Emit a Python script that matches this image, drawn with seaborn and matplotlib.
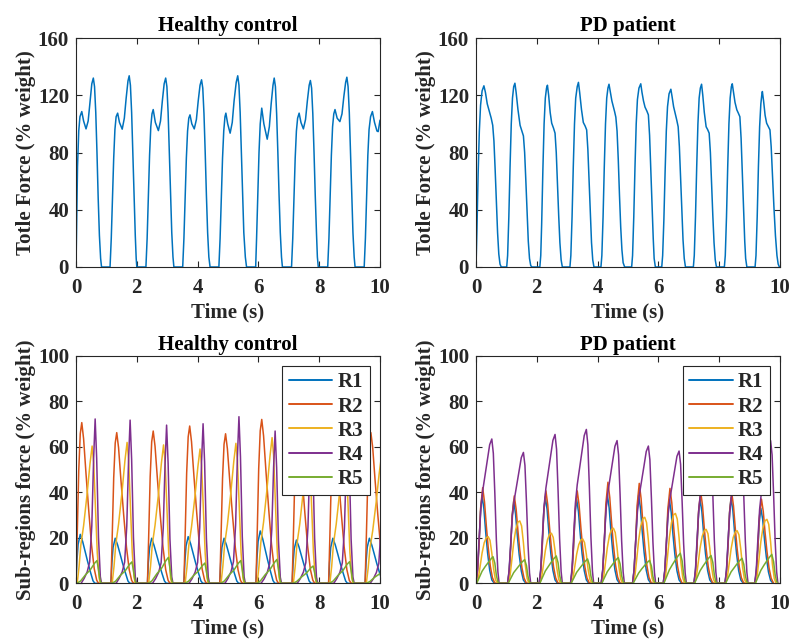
import numpy as np
import pandas as pd
import seaborn as sns
import matplotlib
matplotlib.use("Agg")
import matplotlib.pyplot as plt

# ---------------------------------------------------------------
# data (time in s, force in % body weight)
# ---------------------------------------------------------------

# total force, healthy control: (time, force) per step cycle
hc_total_pts = [
    (0.00, 0), (0.02, 30), (0.05, 70), (0.09, 95), (0.13, 105), (0.19, 108.6), (0.25, 102), (0.33, 96.5),
    (0.40, 102), (0.46, 115), (0.52, 128), (0.57, 132), (0.61, 126), (0.65, 108), (0.69, 80), (0.73, 48),
    (0.77, 22), (0.81, 6), (0.84, 0),
    (1.12, 0), (1.16, 20), (1.20, 48), (1.24, 76), (1.28, 96), (1.32, 105), (1.37, 107.5), (1.43, 101),
    (1.52, 96.3), (1.59, 104), (1.65, 118), (1.71, 130), (1.75, 133.6), (1.79, 127), (1.83, 108), (1.87, 80),
    (1.91, 50), (1.95, 22), (1.98, 6), (2.00, 0),
    (2.30, 0), (2.34, 20), (2.38, 48), (2.42, 78), (2.46, 98), (2.50, 107), (2.54, 110), (2.61, 101),
    (2.71, 95.3), (2.78, 102), (2.84, 116), (2.90, 128), (2.95, 132), (2.99, 126), (3.03, 108), (3.07, 80),
    (3.11, 50), (3.15, 24), (3.19, 7), (3.22, 0),
    (3.51, 0), (3.55, 20), (3.59, 48), (3.63, 76), (3.67, 95), (3.71, 104), (3.75, 106.3), (3.81, 100),
    (3.89, 96.5), (3.96, 103), (4.02, 116), (4.08, 127), (4.13, 130.8), (4.17, 125), (4.21, 107), (4.25, 80),
    (4.29, 50), (4.33, 24), (4.37, 7), (4.41, 0),
    (4.70, 0), (4.74, 20), (4.78, 48), (4.82, 76), (4.86, 95), (4.90, 105), (4.93, 107.5), (4.99, 100),
    (5.07, 93.5), (5.14, 101), (5.20, 116), (5.27, 129), (5.32, 133.6), (5.36, 127), (5.40, 108), (5.44, 80),
    (5.48, 50), (5.52, 24), (5.57, 7), (5.61, 0),
    (5.91, 0), (5.94, 20), (5.98, 50), (6.02, 80), (6.06, 100), (6.11, 111), (6.18, 100), (6.29, 89.3),
    (6.36, 98), (6.42, 114), (6.48, 127), (6.52, 132), (6.56, 126), (6.60, 107), (6.64, 80), (6.68, 50),
    (6.72, 24), (6.76, 7), (6.79, 0),
    (7.09, 0), (7.13, 20), (7.17, 48), (7.21, 76), (7.25, 95), (7.29, 104), (7.34, 107.5), (7.40, 101),
    (7.48, 96.5), (7.55, 103), (7.61, 116), (7.67, 127), (7.71, 130.3), (7.75, 125), (7.79, 107), (7.83, 80),
    (7.87, 50), (7.91, 24), (7.94, 7), (7.97, 0),
    (8.28, 0), (8.32, 20), (8.36, 48), (8.40, 78), (8.44, 98), (8.48, 107), (8.52, 110), (8.59, 104),
    (8.68, 101.6), (8.75, 107), (8.81, 119), (8.87, 129), (8.91, 132.6), (8.95, 126), (8.99, 108), (9.03, 80),
    (9.07, 50), (9.11, 24), (9.15, 7), (9.18, 0),
    (9.48, 0), (9.52, 20), (9.56, 48), (9.60, 78), (9.64, 96), (9.69, 105), (9.75, 108.6), (9.82, 101),
    (9.90, 95), (9.94, 94.6), (10.00, 102.6),
]

# total force, PD patient
pd_total_pts = [
    (0.00, 0), (0.03, 25), (0.07, 65), (0.11, 95), (0.15, 113), (0.20, 123), (0.26, 126.6), (0.31, 122),
    (0.37, 114), (0.44, 108.6), (0.50, 104), (0.55, 99), (0.59, 88), (0.63, 68), (0.67, 45), (0.71, 24),
    (0.75, 9), (0.79, 2), (0.83, 0),
    (1.01, 0), (1.04, 8), (1.08, 35), (1.12, 70), (1.16, 100), (1.20, 118), (1.24, 126), (1.28, 128.4),
    (1.32, 122), (1.38, 110), (1.45, 99), (1.51, 95), (1.56, 91.6), (1.60, 80), (1.64, 60), (1.68, 38),
    (1.72, 18), (1.76, 6), (1.80, 1), (1.84, 0),
    (2.10, 0), (2.13, 8), (2.16, 30), (2.20, 68), (2.24, 100), (2.28, 118), (2.32, 125), (2.35, 127),
    (2.39, 120), (2.44, 108), (2.49, 100.5), (2.55, 97), (2.60, 93.5), (2.64, 80), (2.68, 58), (2.72, 36),
    (2.76, 17), (2.80, 5), (2.84, 0),
    (3.09, 0), (3.12, 8), (3.16, 35), (3.20, 70), (3.24, 100), (3.28, 118), (3.33, 126), (3.37, 129),
    (3.41, 122), (3.47, 110), (3.53, 101), (3.59, 98.5), (3.64, 95.8), (3.68, 82), (3.72, 60), (3.76, 37),
    (3.80, 17), (3.84, 5), (3.88, 0),
    (4.11, 0), (4.14, 8), (4.18, 35), (4.22, 70), (4.26, 100), (4.30, 118), (4.34, 125), (4.375, 127.7),
    (4.42, 122), (4.47, 116), (4.52, 112), (4.56, 108.5), (4.60, 104.7), (4.64, 95), (4.68, 75), (4.72, 50),
    (4.76, 28), (4.80, 12), (4.84, 3), (4.89, 0),
    (5.12, 0), (5.15, 8), (5.19, 35), (5.23, 70), (5.27, 100), (5.31, 117), (5.36, 125), (5.42, 128),
    (5.46, 122), (5.51, 116), (5.56, 111.7), (5.62, 109), (5.67, 106.3), (5.71, 92), (5.75, 68), (5.79, 42),
    (5.83, 20), (5.86, 6), (5.90, 0),
    (6.11, 0), (6.14, 8), (6.18, 33), (6.22, 66), (6.26, 95), (6.30, 112), (6.35, 121), (6.41, 124.2),
    (6.45, 119), (6.50, 112), (6.55, 107.5), (6.60, 103), (6.65, 98), (6.69, 84), (6.73, 62), (6.77, 39),
    (6.81, 19), (6.85, 6), (6.89, 0),
    (7.15, 0), (7.18, 8), (7.22, 35), (7.26, 70), (7.30, 100), (7.34, 118), (7.38, 125), (7.42, 127.7),
    (7.46, 120), (7.51, 108), (7.57, 98), (7.62, 96), (7.67, 93.5), (7.71, 80), (7.75, 58), (7.79, 36),
    (7.83, 17), (7.87, 5), (7.91, 0),
    (8.17, 0), (8.20, 8), (8.24, 35), (8.28, 70), (8.32, 100), (8.36, 118), (8.40, 126), (8.43, 128),
    (8.47, 122), (8.52, 115), (8.58, 109.8), (8.63, 107.5), (8.68, 105), (8.72, 90), (8.76, 66), (8.80, 40),
    (8.84, 18), (8.87, 6), (8.91, 0),
    (9.18, 0), (9.21, 8), (9.25, 35), (9.29, 70), (9.33, 98), (9.37, 114), (9.40, 120), (9.42, 122.6),
    (9.46, 116), (9.51, 106), (9.56, 100.5), (9.62, 98), (9.67, 95.8), (9.71, 84), (9.75, 65), (9.80, 42),
    (9.85, 22), (9.90, 8), (9.94, 2), (9.98, 0), (10.00, 0),
]

regions = ["R1", "R2", "R3", "R4", "R5"]

# ---- healthy control sub-regions: cycle onsets + time after onset + values per cycle
hc_onsets = [0.0, 1.15, 2.35, 3.55, 4.73, 5.92, 7.11, 8.31, 9.51]

hc_r1_dt = [0, 0.03, 0.07, 0.14, 0.22, 0.30, 0.38, 0.48, 0.56, 0.62]
hc_r1 = [
    [0, 9.7, 17.2, 21.5, 18.3, 14.0, 9.7, 4.7, 1.1, 0],
    [0, 8.9, 15.8, 19.8, 16.8, 12.9, 8.9, 4.4, 1.0, 0],
    [0, 9.0, 15.6, 19.8, 16.5, 12.6, 8.7, 4.3, 1.0, 0],
    [0, 9.2, 16.4, 20.5, 17.4, 13.3, 9.2, 4.5, 1.0, 0],
    [0, 8.9, 15.8, 19.8, 16.8, 12.9, 8.9, 4.4, 1.0, 0],
    [0, 10.4, 18.4, 23.0, 19.6, 15.0, 10.4, 5.1, 1.2, 0],
    [0, 8.6, 15.2, 19.0, 16.2, 12.4, 8.6, 4.2, 1.0, 0],
    [0, 8.9, 15.8, 19.8, 16.8, 12.9, 8.9, 4.4, 1.0, 0],
    [0, 8.9, 15.8, 19.8, 16.8, 12.9, 8.9, 4.4, 1.0, 0],
]

hc_r2_dt = [0, 0.04, 0.09, 0.14, 0.19, 0.25, 0.33, 0.42, 0.51, 0.60, 0.68, 0.74]
hc_r2 = [
    [0, 21.2, 49.4, 65.7, 70.6, 63.5, 48.0, 31.8, 16.9, 6.4, 1.4, 0],
    [0, 19.9, 46.3, 61.6, 66.2, 59.6, 45.0, 29.8, 15.9, 6.0, 1.3, 0],
    [0, 20.1, 46.8, 62.2, 66.9, 60.2, 45.5, 30.1, 16.1, 6.0, 1.3, 0],
    [0, 20.7, 48.4, 64.3, 69.1, 62.2, 47.0, 31.1, 16.6, 6.2, 1.4, 0],
    [0, 19.7, 46.0, 61.1, 65.7, 59.1, 44.7, 29.6, 15.8, 5.9, 1.3, 0],
    [0, 21.6, 50.4, 67.0, 72.0, 64.8, 49.0, 32.4, 17.3, 6.5, 1.4, 0],
    [0, 20.4, 47.6, 63.2, 68.0, 61.2, 46.2, 30.6, 16.3, 6.1, 1.4, 0],
    [0, 20.1, 46.9, 62.3, 67.0, 60.3, 45.6, 30.2, 16.1, 6.0, 1.3, 0],
    [0, 19.9, 46.3, 61.6, 66.2, 59.6, 45.0, 29.8, 15.9, 6.0, 1.3, 0],
]

hc_r3_dt = [0.04, 0.10, 0.16, 0.25, 0.36, 0.46, 0.53, 0.58, 0.64, 0.70, 0.76, 0.80]
hc_r3 = [
    [0, 7.2, 16.9, 25.3, 38.6, 52.5, 60.3, 53.1, 33.2, 13.3, 2.4, 0],
    [0, 7.4, 17.3, 26.0, 39.6, 53.9, 61.9, 54.5, 34.0, 13.6, 2.5, 0],
    [0, 7.3, 17.0, 25.5, 38.9, 52.9, 60.8, 53.5, 33.4, 13.4, 2.4, 0],
    [0, 7.1, 16.5, 24.8, 37.8, 51.3, 59.0, 51.9, 32.5, 13.0, 2.4, 0],
    [0, 7.4, 17.2, 25.8, 39.4, 53.5, 61.5, 54.1, 33.8, 13.5, 2.5, 0],
    [0, 7.7, 17.9, 26.9, 41.0, 55.7, 64.0, 56.3, 35.2, 14.1, 2.6, 0],
    [0, 7.4, 17.4, 26.0, 39.7, 53.9, 62.0, 54.6, 34.1, 13.6, 2.5, 0],
    [0, 7.4, 17.4, 26.0, 39.7, 53.9, 62.0, 54.6, 34.1, 13.6, 2.5, 0],
    [0, 6.6, 15.4, 23.1, 35.2, 47.9, 55.0, 48.4, 30.3, 12.1, 2.2, 0],
]

hc_r4_dt = [0.17, 0.27, 0.37, 0.45, 0.52, 0.58, 0.63, 0.68, 0.74, 0.80, 0.84]
hc_r4 = [
    [0, 2.2, 5.1, 9.4, 25.3, 54.9, 72.2, 54.9, 20.2, 2.9, 0],
    [0, 2.2, 5.0, 9.3, 25.1, 54.5, 71.7, 54.5, 20.1, 2.9, 0],
    [0, 2.1, 4.9, 9.0, 24.3, 52.8, 69.5, 52.8, 19.5, 2.8, 0],
    [0, 2.1, 4.9, 9.1, 24.5, 53.3, 70.1, 53.3, 19.6, 2.8, 0],
    [0, 2.2, 5.1, 9.5, 25.6, 55.6, 73.2, 55.6, 20.5, 2.9, 0],
    [0, 2.0, 4.7, 8.7, 23.4, 50.8, 66.9, 50.8, 18.7, 2.7, 0],
    [0, 2.1, 4.9, 9.1, 24.5, 53.2, 70.0, 53.2, 19.6, 2.8, 0],
    [0, 2.1, 4.8, 9.0, 24.2, 52.4, 69.0, 52.4, 19.3, 2.8, 0],
    [0, 2.0, 4.7, 8.7, 23.4, 50.8, 66.9, 50.8, 18.7, 2.7, 0],
]

hc_r5_dt = [0.03, 0.15, 0.31, 0.47, 0.61, 0.69, 0.74, 0.79, 0.83]
hc_r5 = [
    [0, 1.0, 3.7, 5.9, 8.8, 10.0, 6.0, 1.5, 0],
    [0, 0.9, 3.5, 5.5, 8.3, 9.4, 5.6, 1.4, 0],
    [0, 1.1, 4.2, 6.7, 10.0, 11.4, 6.8, 1.7, 0],
    [0, 0.9, 3.3, 5.3, 7.8, 8.9, 5.3, 1.3, 0],
    [0, 1.0, 3.7, 5.9, 8.8, 10.0, 6.0, 1.5, 0],
    [0, 1.1, 3.9, 6.2, 9.2, 10.5, 6.3, 1.6, 0],
    [0, 0.8, 2.8, 4.5, 6.7, 7.6, 4.6, 1.1, 0],
    [0, 1.0, 3.5, 5.6, 8.4, 9.5, 5.7, 1.4, 0],
    [0, 0.7, 2.6, 4.1, 6.2, 7.0, 4.2, 1.1, 0],
]

# ---- PD patient sub-regions
pd_onsets = [0.0, 1.04, 2.08, 3.11, 4.12, 5.15, 6.16, 7.17, 8.19, 9.17]

pd_r1_dt = [0, 0.05, 0.10, 0.15, 0.20, 0.26, 0.32, 0.38, 0.45, 0.52, 0.60]
pd_r1 = [
    [0, 5.8, 17.3, 31.6, 38.5, 32.7, 22.3, 13.5, 5.8, 1.5, 0],
    [0, 5.4, 16.2, 29.5, 36.0, 30.6, 20.9, 12.6, 5.4, 1.4, 0],
    [0, 5.7, 17.1, 31.2, 38.0, 32.3, 22.0, 13.3, 5.7, 1.5, 0],
    [0, 5.6, 16.7, 30.3, 37.0, 31.5, 21.5, 13.0, 5.6, 1.5, 0],
    [0, 5.9, 17.6, 32.0, 39.0, 33.2, 22.6, 13.7, 5.9, 1.6, 0],
    [0, 5.8, 17.5, 31.8, 38.8, 33.0, 22.5, 13.6, 5.8, 1.6, 0],
    [0, 5.5, 16.6, 30.2, 36.8, 31.3, 21.3, 12.9, 5.5, 1.5, 0],
    [0, 5.6, 16.7, 30.3, 37.0, 31.5, 21.5, 13.0, 5.6, 1.5, 0],
    [0, 5.6, 16.9, 30.8, 37.5, 31.9, 21.8, 13.1, 5.6, 1.5, 0],
    [0, 5.0, 14.9, 27.1, 33.0, 28.1, 19.1, 11.6, 5.0, 1.3, 0],
]

pd_r2_dt = [0, 0.05, 0.10, 0.15, 0.22, 0.28, 0.34, 0.40, 0.47, 0.54, 0.62]
pd_r2 = [
    [0, 5.0, 16.8, 32.8, 42.0, 35.7, 25.2, 16.0, 7.6, 2.5, 0],
    [0, 4.6, 15.4, 30.0, 38.4, 32.6, 23.0, 14.6, 6.9, 2.3, 0],
    [0, 4.9, 16.2, 31.7, 40.6, 34.5, 24.4, 15.4, 7.3, 2.4, 0],
    [0, 4.9, 16.2, 31.7, 40.6, 34.5, 24.4, 15.4, 7.3, 2.4, 0],
    [0, 5.3, 17.8, 34.6, 44.4, 37.7, 26.6, 16.9, 8.0, 2.7, 0],
    [0, 5.3, 17.6, 34.2, 43.9, 37.3, 26.3, 16.7, 7.9, 2.6, 0],
    [0, 5.0, 16.7, 32.5, 41.7, 35.4, 25.0, 15.8, 7.5, 2.5, 0],
    [0, 4.8, 16.1, 31.4, 40.3, 34.3, 24.2, 15.3, 7.3, 2.4, 0],
    [0, 4.8, 16.0, 31.2, 40.0, 34.0, 24.0, 15.2, 7.2, 2.4, 0],
    [0, 4.4, 14.8, 28.9, 37.0, 31.5, 22.2, 14.1, 6.7, 2.2, 0],
]

pd_r3_dt = [0.02, 0.08, 0.14, 0.20, 0.27, 0.34, 0.40, 0.46, 0.52, 0.58, 0.64, 0.70]
pd_r3 = [
    [0, 2.5, 7.8, 13.3, 17.8, 20.1, 20.5, 18.9, 13.3, 6.2, 1.6, 0],
    [0, 3.3, 10.4, 17.8, 23.8, 26.9, 27.4, 25.2, 17.8, 8.2, 2.2, 0],
    [0, 2.6, 8.4, 14.3, 19.1, 21.6, 22.0, 20.2, 14.3, 6.6, 1.8, 0],
    [0, 2.3, 7.4, 12.7, 17.0, 19.1, 19.5, 17.9, 12.7, 5.9, 1.6, 0],
    [0, 2.9, 9.2, 15.7, 21.1, 23.7, 24.2, 22.3, 15.7, 7.3, 1.9, 0],
    [0, 3.5, 11.0, 18.9, 25.2, 28.4, 29.0, 26.7, 18.9, 8.7, 2.3, 0],
    [0, 3.7, 11.7, 20.0, 26.7, 30.1, 30.7, 28.2, 20.0, 9.2, 2.5, 0],
    [0, 2.8, 9.0, 15.4, 20.6, 23.2, 23.7, 21.8, 15.4, 7.1, 1.9, 0],
    [0, 2.8, 8.8, 15.0, 20.1, 22.6, 23.1, 21.3, 15.0, 6.9, 1.8, 0],
    [0, 3.4, 10.7, 18.3, 24.4, 27.5, 28.1, 25.9, 18.3, 8.4, 2.2, 0],
]

pd_r4_dt = [0, 0.05, 0.10, 0.16, 0.22, 0.30, 0.38, 0.45, 0.52, 0.57, 0.62, 0.67, 0.72, 0.76]
pd_r4 = [
    [0, 6.3, 19.0, 33.0, 40.6, 47.6, 54.5, 60.9, 63.4, 57.1, 39.3, 19.0, 5.1, 0],
    [0, 5.8, 17.3, 29.9, 36.8, 43.1, 49.5, 55.2, 57.5, 51.8, 35.7, 17.3, 4.6, 0],
    [0, 6.5, 19.6, 34.0, 41.9, 49.1, 56.2, 62.8, 65.4, 58.9, 40.5, 19.6, 5.2, 0],
    [0, 6.8, 20.3, 35.2, 43.3, 50.7, 58.1, 64.9, 67.6, 60.8, 41.9, 20.3, 5.4, 0],
    [0, 6.3, 18.8, 32.6, 40.1, 47.0, 53.9, 60.2, 62.7, 56.4, 38.9, 18.8, 5.0, 0],
    [0, 6.0, 18.1, 31.4, 38.6, 45.2, 51.9, 57.9, 60.3, 54.3, 37.4, 18.1, 4.8, 0],
    [0, 5.8, 17.4, 30.2, 37.2, 43.6, 50.0, 55.8, 58.1, 52.3, 36.0, 17.4, 4.6, 0],
    [0, 6.3, 18.9, 32.8, 40.3, 47.3, 54.2, 60.5, 63.0, 56.7, 39.1, 18.9, 5.0, 0],
    [0, 6.1, 18.3, 31.7, 39.0, 45.8, 52.5, 58.6, 61.0, 54.9, 37.8, 18.3, 4.9, 0],
    [0, 6.3, 18.8, 32.6, 40.1, 47.0, 53.9, 60.2, 62.7, 56.4, 38.9, 18.8, 5.0, 0],
]

pd_r5_dt = [0.02, 0.10, 0.20, 0.30, 0.40, 0.48, 0.56, 0.62, 0.67, 0.72, 0.76]
pd_r5 = [
    [0, 2.3, 5.3, 7.3, 9.1, 10.5, 11.7, 8.8, 3.5, 0.7, 0],
    [0, 2.1, 4.7, 6.4, 8.1, 9.4, 10.4, 7.8, 3.1, 0.6, 0],
    [0, 2.4, 5.4, 7.4, 9.4, 10.8, 12.0, 9.0, 3.6, 0.7, 0],
    [0, 2.1, 4.8, 6.6, 8.3, 9.6, 10.7, 8.0, 3.2, 0.6, 0],
    [0, 2.3, 5.1, 7.0, 8.8, 10.2, 11.3, 8.5, 3.4, 0.7, 0],
    [0, 2.0, 4.5, 6.3, 7.9, 9.1, 10.1, 7.6, 3.0, 0.6, 0],
    [0, 2.6, 5.9, 8.2, 10.3, 11.9, 13.2, 9.9, 4.0, 0.8, 0],
    [0, 2.4, 5.5, 7.6, 9.5, 11.0, 12.2, 9.2, 3.7, 0.7, 0],
    [0, 2.2, 5.0, 6.8, 8.6, 9.9, 11.0, 8.3, 3.3, 0.7, 0],
    [0, 2.5, 5.7, 7.9, 9.9, 11.4, 12.7, 9.5, 3.8, 0.8, 0],
]

region_colors = ["#0072BD", "#D95319", "#EDB120", "#7E2F8E", "#77AC30"]


def cycles_to_frame(onsets, dts, cycles, name):
    rows = []
    for t0, vals in zip(onsets, cycles):
        assert len(vals) == len(dts), name
        for dt, v in zip(dts, vals):
            rows.append((t0 + dt, v, name))
    return pd.DataFrame(rows, columns=["Time", "Force", "Region"])


def build_regions(onsets, parts):
    frames = [cycles_to_frame(onsets, dts, vals, name) for name, (dts, vals) in zip(regions, parts)]
    return pd.concat(frames, ignore_index=True)


hc_sub = build_regions(hc_onsets, [(hc_r1_dt, hc_r1), (hc_r2_dt, hc_r2), (hc_r3_dt, hc_r3),
                                   (hc_r4_dt, hc_r4), (hc_r5_dt, hc_r5)])
pd_sub = build_regions(pd_onsets, [(pd_r1_dt, pd_r1), (pd_r2_dt, pd_r2), (pd_r3_dt, pd_r3),
                                   (pd_r4_dt, pd_r4), (pd_r5_dt, pd_r5)])

# ---------------------------------------------------------------
# style
# ---------------------------------------------------------------
sns.set_style("ticks")
plt.rcParams['font.family'] = ['Liberation Serif', 'DejaVu Serif']
plt.rcParams['font.weight'] = 'bold'
plt.rcParams['axes.titleweight'] = 'bold'
plt.rcParams['axes.labelweight'] = 'bold'
plt.rcParams['axes.edgecolor'] = '#262626'
plt.rcParams['axes.linewidth'] = 0.8

FS = 15
DARK = '#262626'

fig = plt.figure(figsize=(7.92, 6.39), dpi=100)
W, H = 792.0, 639.0
ax_tl = fig.add_axes([76 / W, 1 - 267 / H, 304 / W, 229 / H])
ax_tr = fig.add_axes([476 / W, 1 - 267 / H, 304 / W, 229 / H])
ax_bl = fig.add_axes([76 / W, 1 - 583.3 / H, 304 / W, 227.6 / H])
ax_br = fig.add_axes([476 / W, 1 - 583.3 / H, 304 / W, 227.6 / H])


def style_axes(ax, title, ylabel, ymax, ystep, title_pad):
    ax.set_xlim(0, 10)
    ax.set_ylim(0, ymax)
    ax.set_xticks(np.arange(0, 11, 2))
    ax.set_yticks(np.arange(0, ymax + 1, ystep))
    ax.tick_params(direction='in', top=True, right=True, length=4, width=0.8,
                   labelsize=FS, colors=DARK)
    ax.tick_params(axis='x', pad=8)
    ax.tick_params(axis='y', pad=5)
    for sp in ax.spines.values():
        sp.set_visible(True)
        sp.set_color(DARK)
        sp.set_linewidth(0.8)
    ax.set_title(title, fontsize=FS, fontweight='bold', color='black', pad=title_pad)
    ax.set_xlabel('Time (s)', fontsize=FS, fontweight='bold', color=DARK, labelpad=3)
    ax.set_ylabel(ylabel, fontsize=FS, fontweight='bold', color=DARK, labelpad=1.5)


# top row: total force
hc_t, hc_f = zip(*hc_total_pts)
pd_t, pd_f = zip(*pd_total_pts)
sns.lineplot(x=list(hc_t), y=list(hc_f), ax=ax_tl, color='#0072BD', lw=1.1, estimator=None, sort=False)
sns.lineplot(x=list(pd_t), y=list(pd_f), ax=ax_tr, color='#0072BD', lw=1.1, estimator=None, sort=False)
style_axes(ax_tl, 'Healthy control', 'Totle Force (% weight)', 160, 40, 5)
style_axes(ax_tr, 'PD patient', 'Totle Force (% weight)', 160, 40, 5)

# bottom row: sub-region forces
for ax, df, title in [(ax_bl, hc_sub, 'Healthy control'), (ax_br, pd_sub, 'PD patient')]:
    sns.lineplot(data=df, x='Time', y='Force', hue='Region', hue_order=regions,
                 palette=region_colors, lw=1.1, estimator=None, sort=False, ax=ax)
    style_axes(ax, title, 'Sub-regions force (% weight)', 100, 20, 4)
    handles, labels = ax.get_legend_handles_labels()
    leg = ax.legend(handles, labels, loc='upper right', prop={'weight': 'bold', 'size': FS},
                    frameon=True, fancybox=False, framealpha=1, edgecolor=DARK,
                    borderpad=0.3, labelspacing=0.2, handlelength=2.1, handletextpad=0.25,
                    borderaxespad=0.5)
    leg.get_frame().set_linewidth(0.8)
    for h in leg.get_lines():
        h.set_linewidth(1.4)

fig.savefig('out.png', dpi=100)
